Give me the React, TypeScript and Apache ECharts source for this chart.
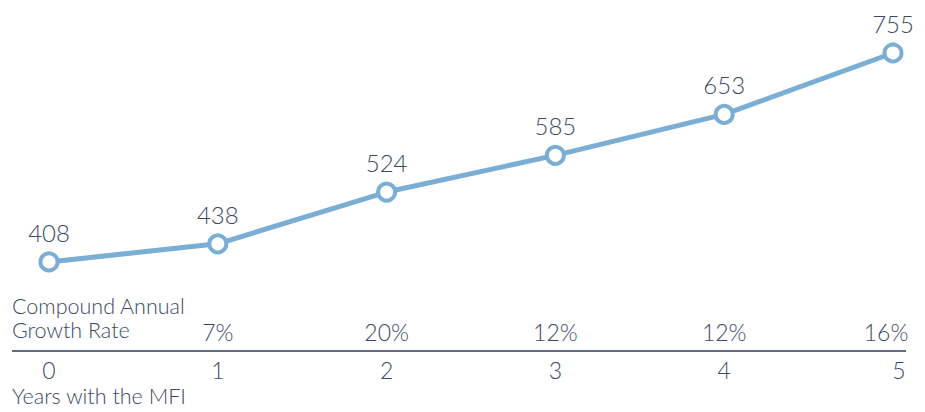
import React, { useEffect, useRef } from "react";
import * as echarts from "echarts";

const years = ["0", "1", "2", "3", "4", "5"];
const incomes = [408, 438, 524, 585, 653, 755];
const growthRates = ["", "7%", "20%", "12%", "12%", "16%"];

const TEXT = "#3b4a66";
const LINE = "#7aaed4";
const FONT = "Lato, 'Open Sans', sans-serif";

export default function App() {
  const ref = useRef<HTMLDivElement>(null);
  useEffect(() => {
    if (!ref.current) return;
    const chart = echarts.init(ref.current, undefined, { renderer: "svg" });
    chart.setOption({
      animation: false,
      grid: { left: 49, right: 32, top: 0, bottom: 61 },
      xAxis: [
        {
          type: "category",
          data: years,
          boundaryGap: false,
          axisLine: { show: false },
          axisTick: { show: false },
          axisLabel: {
            color: TEXT,
            fontFamily: FONT,
            fontWeight: 300,
            fontSize: 23,
            margin: 7,
            formatter: (v: string, i: number) => (i === years.length - 1 ? `{last|${v}}` : v),
            rich: { last: { padding: [0, 0, 0, 12], color: TEXT, fontFamily: FONT, fontWeight: 300, fontSize: 23 } },
          },
        },
        {
          type: "category",
          data: years,
          boundaryGap: false,
          position: "bottom",
          axisLine: { show: false },
          axisTick: { show: false },
          axisLabel: {
            inside: true,
            color: TEXT,
            fontFamily: FONT,
            fontWeight: 300,
            fontSize: 23,
            margin: 8,
            formatter: (_v: string, i: number) =>
              i === years.length - 1 ? `{last|${growthRates[i]}}` : growthRates[i],
            rich: { last: { padding: [0, 14, 0, 0], color: TEXT, fontFamily: FONT, fontWeight: 300, fontSize: 23 } },
          },
        },
      ],
      yAxis: {
        type: "value",
        min: 260,
        max: 843,
        show: false,
      },
      series: [
        {
          type: "line",
          data: incomes,
          lineStyle: { color: LINE, width: 5 },
          itemStyle: { color: "#ffffff", borderColor: LINE, borderWidth: 4 },
          symbol: "circle",
          symbolSize: 17,
          label: {
            show: true,
            position: "top",
            distance: 7,
            color: TEXT,
            fontFamily: FONT,
            fontWeight: 300,
            fontSize: 24,
          },
        },
      ],
      graphic: [
        {
          type: "line",
          shape: { x1: 12, y1: 351, x2: 906, y2: 351 },
          style: { stroke: "#2f3d58", lineWidth: 1.5 },
        },
        {
          type: "text",
          left: 12,
          top: 294,
          style: {
            text: "Compound Annual\nGrowth Rate",
            fill: TEXT,
            font: `300 21.5px ${FONT}`,
            lineHeight: 24,
          },
        },
        {
          type: "text",
          left: 12,
          top: 385,
          style: {
            text: "Years with the MFI",
            fill: TEXT,
            font: `300 21.5px ${FONT}`,
          },
        },
      ],
    });
    return () => chart.dispose();
  }, []);
  return <div ref={ref} style={{ width: 925, height: 412, position: "absolute", left: 0, top: 0 }} />;
}
